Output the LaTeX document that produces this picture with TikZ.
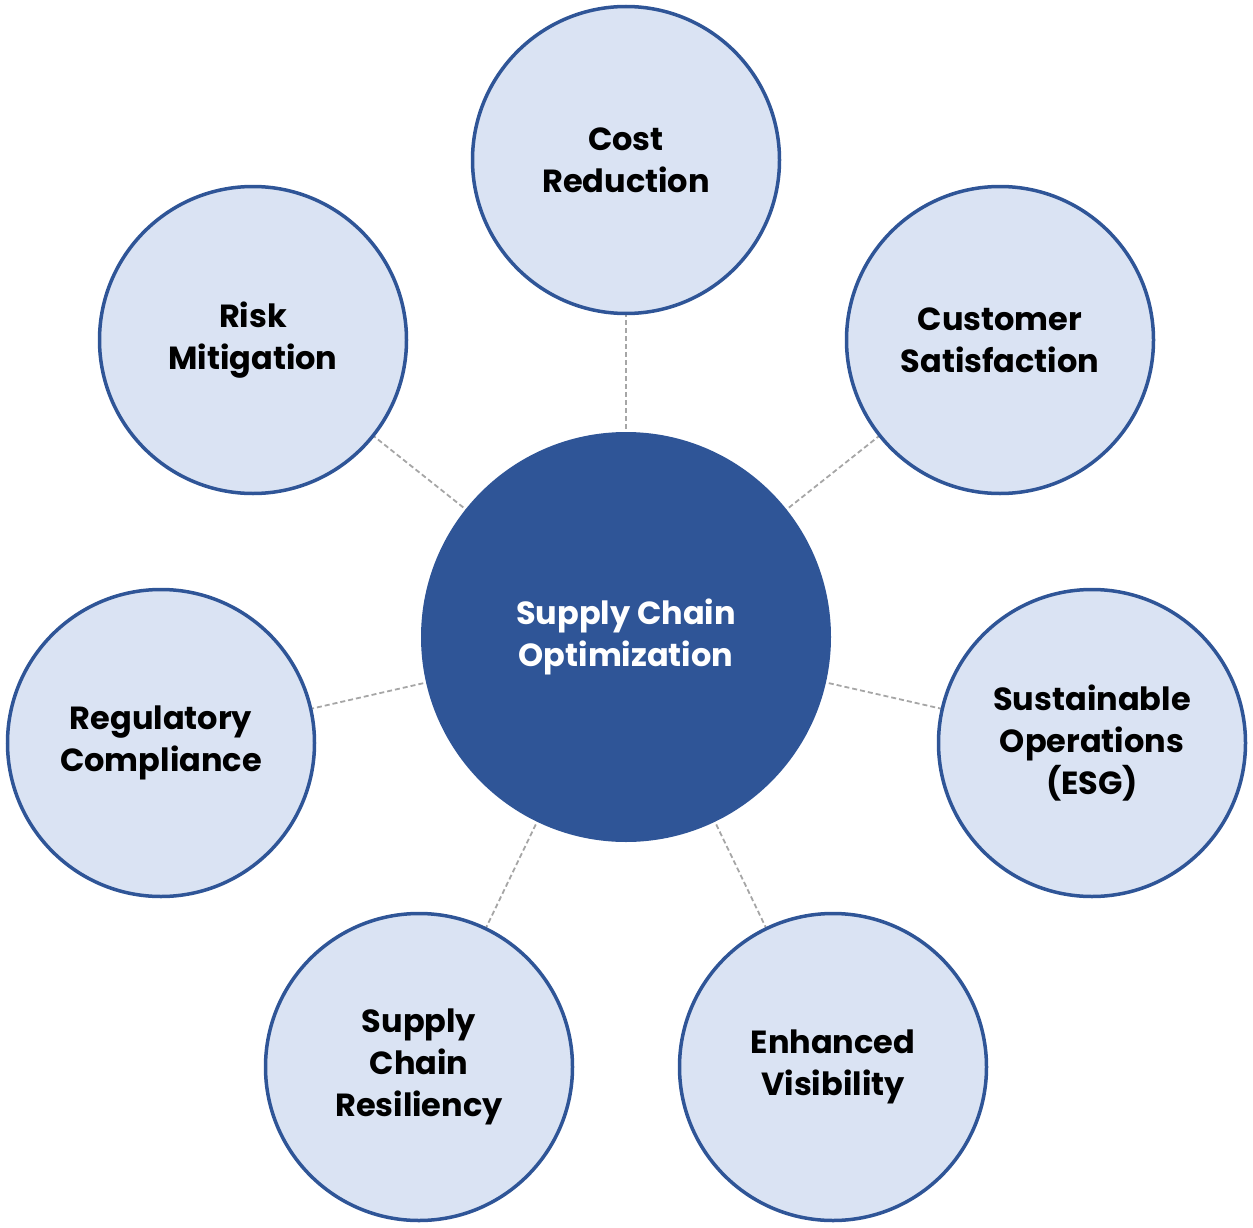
\documentclass[tikz,border=0pt]{standalone}
\usepackage{fontspec}
\setmainfont{Poppins}
\definecolor{dblue}{HTML}{2F5597}
\definecolor{lblue}{HTML}{DAE3F3}
\definecolor{dgray}{HTML}{A6A6A6}
\begin{document}
\begin{tikzpicture}[x=1pt,y=-1pt,
  outer/.style={circle,draw=dblue,fill=lblue,line width=3.5pt,minimum size=307pt,inner sep=0pt,
    align=center,font=\fontsize{32}{42}\selectfont\bfseries,text=black},
  hub/.style={circle,fill=dblue,minimum size=410pt,inner sep=0pt,align=center,
    font=\fontsize{32}{42}\selectfont\bfseries,text=white},
  link/.style={draw=dgray,line width=1.8pt,dash pattern=on 5pt off 3pt}]
\useasboundingbox (0,0) rectangle (1253,1228);
\coordinate (hc) at (626,637);
\coordinate (c1) at (626,160);
\coordinate (c2) at (1000,340);
\coordinate (c3) at (1092,743);
\coordinate (c4) at (833,1067);
\coordinate (c5) at (419,1067);
\coordinate (c6) at (161,743);
\coordinate (c7) at (253,340);
\foreach \i in {1,...,7} \draw[link] (hc) -- (c\i);
\node[hub] (hub) at (hc) {Supply Chain\\Optimization};
\node[outer] (n1) at (c1) {Cost\\Reduction};
\node[outer] (n2) at (c2) {Customer\\Satisfaction};
\node[outer] (n3) at (c3) {Sustainable\\Operations\\(ESG)};
\node[outer] (n4) at (c4) {Enhanced\\Visibility};
\node[outer] (n5) at (c5) {Supply\\Chain\\Resiliency};
\node[outer] (n6) at (c6) {Regulatory\\Compliance};
\node[outer] (n7) at (c7) {Risk\\Mitigation};
\end{tikzpicture}
\end{document}
